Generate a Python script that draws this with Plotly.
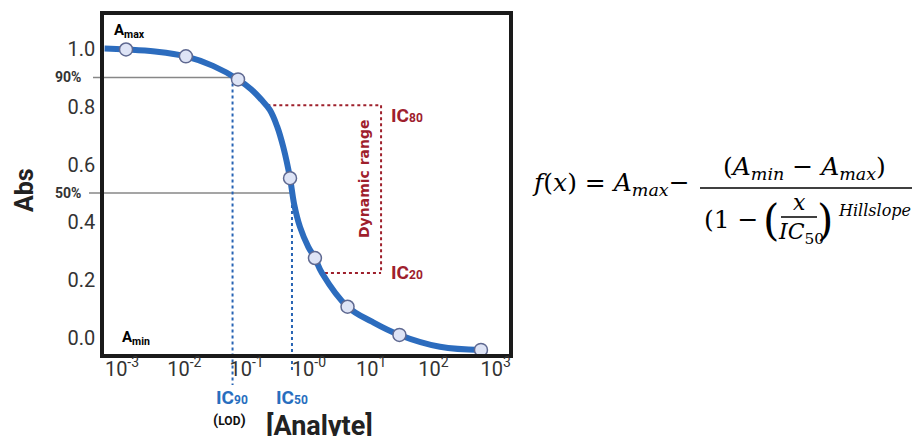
import math
import plotly.graph_objects as go

# ---------------- data ----------------
# measured standards (concentration, absorbance)
conc_points = [0.00116, 0.0106, 0.0728, 0.498, 1.25, 4.17, 28.4, 578]
abs_points = [1.000, 0.976, 0.896, 0.553, 0.276, 0.107, 0.009, -0.043]

# fitted curve samples
curve_conc = [0.000525, 0.00116, 0.00339, 0.0106, 0.0289, 0.0728, 0.118, 0.172, 0.236,
              0.310, 0.388, 0.498, 0.577, 0.719, 0.977, 1.25, 1.62, 4.17, 10.3, 28.4, 127, 578]
curve_abs = [1.003, 1.000, 0.993, 0.976, 0.943, 0.896, 0.862, 0.826, 0.790,
             0.732, 0.661, 0.553, 0.465, 0.384, 0.315, 0.276, 0.224, 0.107, 0.055, 0.009, -0.032, -0.043]

# axis ticks
x_tickvals = [1e-3, 1e-2, 1e-1, 1e0, 1e1, 1e2, 1e3]
x_ticktext = ["10<sup>-3</sup>", "10<sup>-2</sup>", "10<sup>-1</sup>", "10<sup>-0</sup>",
              "10<sup>1</sup>", "10<sup>2</sup>", "10<sup>3</sup>"]
y_tickvals = [0.0, 0.2, 0.4, 0.6, 0.8, 1.0]
y_ticktext = ["0.0", "0.2", "0.4", "0.6", "0.8", "1.0"]

# reference levels / concentrations
level_90 = 0.903
level_50 = 0.502
ic90_conc = 0.0595
ic50_conc = 0.535
ic80_level = 0.806
ic20_level = 0.224
ic80_start_conc = 0.215
ic20_start_conc = 1.81
range_box_conc = 14.4

# ---------------- layout constants ----------------
W, H = 912, 436
L, R, T, B = 104, 403, 15, 82
XR = [-3.289, 3.212]
YR = [-0.0572, 1.1196]

BLUE = "rgb(44,108,190)"
DOT_BLUE = "rgb(40,100,180)"
RED = "rgb(158,32,44)"
GRAY = "rgb(135,135,135)"


def xpaper(conc):
    return (math.log10(conc) - XR[0]) / (XR[1] - XR[0])


def ypaper(v):
    return (v - YR[0]) / (YR[1] - YR[0])


def pxp(px):
    return (px - L) / (W - L - R)


def pyp(py):
    return (H - B - py) / (H - B - T)


fig = go.Figure()
fig.add_trace(go.Scatter(
    x=curve_conc, y=curve_abs, mode="lines",
    line=dict(color=BLUE, width=6, shape="spline", smoothing=1.1),
    hoverinfo="skip"))
fig.add_trace(go.Scatter(
    x=conc_points, y=abs_points, mode="markers",
    marker=dict(size=13, color="rgb(222,228,246)",
                line=dict(color="rgb(95,105,145)", width=1.5)),
    cliponaxis=False))

shapes = []
# grey percentage lines (extend left of axis)
shapes.append(dict(type="line", xref="paper", yref="y", x0=pxp(93), x1=xpaper(conc_points[2]),
                   y0=level_90, y1=level_90, line=dict(color=GRAY, width=1.5), layer="below"))
shapes.append(dict(type="line", xref="paper", yref="y", x0=pxp(89), x1=xpaper(conc_points[3]),
                   y0=level_50, y1=level_50, line=dict(color=GRAY, width=1.5), layer="below"))
# blue dotted verticals (extend below axis)
shapes.append(dict(type="line", xref="x", yref="paper", x0=ic90_conc, x1=ic90_conc,
                   y0=ypaper(level_90), y1=pyp(385), line=dict(color=DOT_BLUE, width=2, dash="dot"),
                   layer="below"))
shapes.append(dict(type="line", xref="x", yref="paper", x0=ic50_conc, x1=ic50_conc,
                   y0=ypaper(level_50), y1=pyp(370), line=dict(color=DOT_BLUE, width=2, dash="dot"),
                   layer="below"))
# red dynamic-range bracket
red_line = dict(color=RED, width=2, dash="dot")
shapes.append(dict(type="line", xref="x", yref="y", x0=ic80_start_conc, x1=range_box_conc,
                   y0=ic80_level, y1=ic80_level, line=red_line, layer="below"))
shapes.append(dict(type="line", xref="x", yref="y", x0=range_box_conc, x1=range_box_conc,
                   y0=ic80_level, y1=ic20_level, line=red_line, layer="below"))
shapes.append(dict(type="line", xref="x", yref="y", x0=ic20_start_conc, x1=range_box_conc,
                   y0=ic20_level, y1=ic20_level, line=red_line, layer="below"))
# formula fraction bars
shapes.append(dict(type="line", xref="paper", yref="paper", x0=pxp(700), x1=pxp(915),
                   y0=pyp(188), y1=pyp(188), line=dict(color="black", width=1.5)))
shapes.append(dict(type="line", xref="paper", yref="paper", x0=pxp(781), x1=pxp(817),
                   y0=pyp(217), y1=pyp(217), line=dict(color="black", width=1.3)))

ann = []


def add_text(text, px, py, size, color="#111", family="Roboto", xanchor="center", angle=0):
    ann.append(dict(text=text, xref="paper", yref="paper", x=pxp(px), y=pyp(py),
                    xanchor=xanchor, yanchor="middle", showarrow=False, textangle=angle,
                    font=dict(family=family, size=size, color=color)))


add_text("<b>A<sub>max</sub></b>", 112, 31, 15, "black", xanchor="left")
add_text("<b>A<sub>min</sub></b>", 120, 338, 15, "black", xanchor="left")
add_text("<b>IC<span style='font-size:12px'>80</span></b>", 389, 115, 19, RED, xanchor="left")
add_text("<b>IC<span style='font-size:12px'>20</span></b>", 389, 272, 19, RED, xanchor="left")
add_text("<b>Dynamic range</b>", 364, 179, 14, RED, family="DejaVu Sans", angle=-90)
add_text("<b>IC<span style='font-size:12px'>90</span></b>", 232, 397, 19, "rgb(40,110,190)")
add_text("<b>IC<span style='font-size:12px'>50</span></b>", 292, 397, 19, "rgb(40,110,190)")
add_text("<b>(<span style='font-size:12px'>LOD</span>)</b>", 229, 420, 15, "#111")
add_text("<b>[Analyte]</b>", 319, 426, 27, "#222")
add_text("<b>Abs</b>", 24, 190, 25, "#222", angle=-90)
add_text("<b>90%</b>", 83, 77, 14, "#333", xanchor="right")
add_text("<b>50%</b>", 83, 193, 14, "#333", xanchor="right")

SERIF = "DejaVu Serif"
add_text("<i>f</i>(<i>x</i>) = <i>A<sub>max</sub></i>−", 530, 184, 25, "black", SERIF, xanchor="left")
add_text("(<i>A<sub>min</sub></i> − <i>A<sub>max</sub></i>)", 804, 168, 25, "black", SERIF)
add_text("(1 −", 702, 219, 25, "black", SERIF, xanchor="left")
add_text("(", 771, 220, 42, "black", SERIF)
add_text("<i>x</i>", 799, 202, 22, "black", SERIF)
add_text("<i>IC</i><sub>50</sub>", 801, 233, 22, "black", SERIF)
add_text(")", 825, 220, 42, "black", SERIF)
add_text("<i>Hillslope</i>", 836, 211, 16, "black", SERIF, xanchor="left")

axis_common = dict(showgrid=False, zeroline=False, showline=True, linecolor="#1a1a1a",
                   linewidth=3.5, mirror=True, ticks="",
                   tickfont=dict(family="Roboto", size=20, color="#333"))

fig.update_layout(
    width=W, height=H,
    margin=dict(l=L, r=R, t=T, b=B, pad=0),
    plot_bgcolor="white", paper_bgcolor="white",
    showlegend=False,
    shapes=shapes, annotations=ann,
    xaxis=dict(type="log", range=XR, tickvals=x_tickvals, ticktext=x_ticktext,
               ticklabelstandoff=-6, **axis_common),
    yaxis=dict(range=YR, tickvals=y_tickvals, ticktext=y_ticktext,
               ticklabelstandoff=1, **axis_common),
)

fig.write_html("out.html", config={"displayModeBar": False},
               post_script="document.body.style.margin='0';")
